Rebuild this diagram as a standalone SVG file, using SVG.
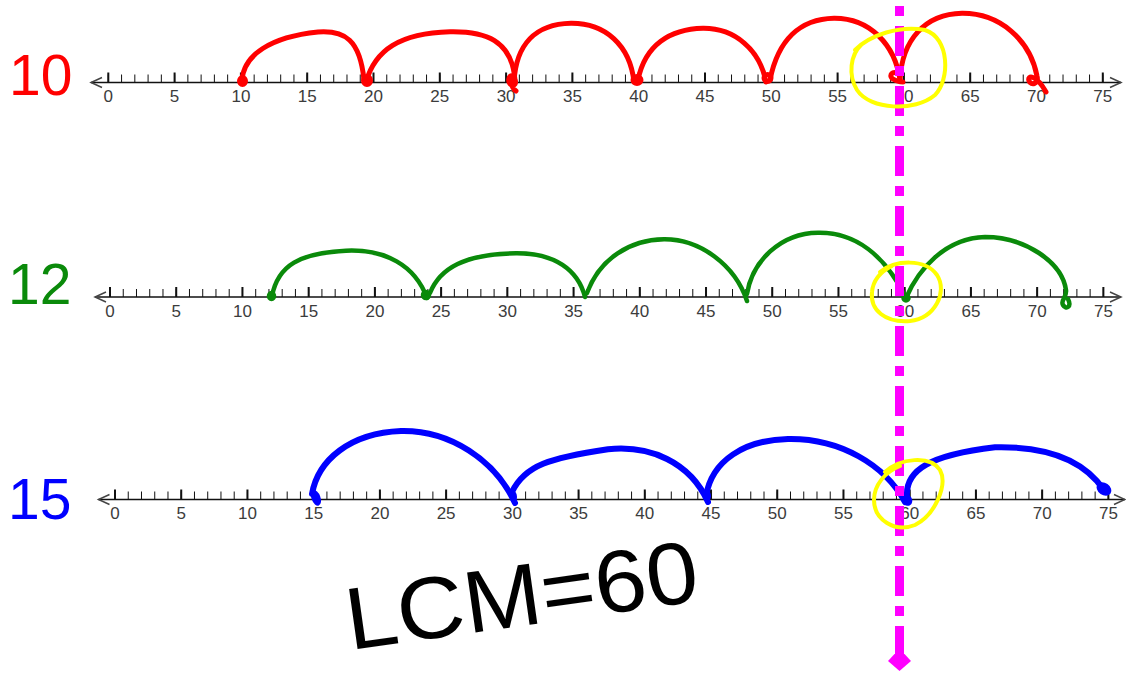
<svg xmlns="http://www.w3.org/2000/svg" width="1126" height="673" viewBox="0 0 1126 673">
<style>
.axis{stroke:#111;stroke-width:1.5;fill:none}
.arr{stroke:#444;stroke-width:1.5;fill:none}
.minor{stroke:#111;stroke-width:8;fill:none}
.major{stroke:#111;stroke-width:10;fill:none}
.lbl{font-family:"Liberation Sans",Arial,sans-serif;font-size:17px;fill:#3c3c3c;text-anchor:middle}
.big{font-family:"Liberation Sans",Arial,sans-serif;font-size:57px}
.red{stroke:#ff0000;stroke-width:5;fill:none;stroke-linecap:round;stroke-linejoin:round}
.grn{stroke:#0a8a0a;stroke-width:4.5;fill:none;stroke-linecap:round;stroke-linejoin:round}
.blu{stroke:#0000ff;stroke-width:6;fill:none;stroke-linecap:round;stroke-linejoin:round}
.yel{stroke:#ffff00;stroke-width:4;fill:none;stroke-linecap:round;stroke-linejoin:round}
</style>
<rect width="1126" height="673" fill="#ffffff"/>

<g id="line10">
<text class="big" x="9" y="95" fill="#ff0000">10</text>
<line class="axis" x1="91" y1="82.5" x2="1121" y2="82.5"/>
<line class="minor" x1="107.8" y1="78.5" x2="1103.3" y2="78.5" stroke-dasharray="1 12.26"/>
<line class="major" x1="107.3" y1="77.5" x2="1104" y2="77.5" stroke-dasharray="2 64.3"/>
<polyline class="arr" points="102,77.5 91,82.5 102,87.5"/>
<polyline class="arr" points="1110,77.5 1121,82.5 1110,87.5"/>
<text class="lbl" x="108.3" y="102">0</text><text class="lbl" x="174.6" y="102">5</text><text class="lbl" x="240.9" y="102">10</text><text class="lbl" x="307.2" y="102">15</text><text class="lbl" x="373.5" y="102">20</text><text class="lbl" x="439.8" y="102">25</text><text class="lbl" x="506.1" y="102">30</text><text class="lbl" x="572.4" y="102">35</text><text class="lbl" x="638.7" y="102">40</text><text class="lbl" x="705" y="102">45</text><text class="lbl" x="771.3" y="102">50</text><text class="lbl" x="837.6" y="102">55</text><text class="lbl" x="903.9" y="102">60</text><text class="lbl" x="970.2" y="102">65</text><text class="lbl" x="1036.5" y="102">70</text><text class="lbl" x="1102.8" y="102">75</text>
</g>

<g id="line12">
<text class="big" x="8" y="304" fill="#0a8a0a">12</text>
<line class="axis" x1="95" y1="297" x2="1121" y2="297"/>
<line class="minor" x1="109.5" y1="293" x2="1104" y2="293" stroke-dasharray="1 12.245"/>
<line class="major" x1="109" y1="292" x2="1105" y2="292" stroke-dasharray="2 64.225"/>
<polyline class="arr" points="106,292 95,297 106,302"/>
<polyline class="arr" points="1110,292 1121,297 1110,302"/>
<text class="lbl" x="110" y="316.5">0</text><text class="lbl" x="176.2" y="316.5">5</text><text class="lbl" x="242.5" y="316.5">10</text><text class="lbl" x="308.7" y="316.5">15</text><text class="lbl" x="374.9" y="316.5">20</text><text class="lbl" x="441.1" y="316.5">25</text><text class="lbl" x="507.4" y="316.5">30</text><text class="lbl" x="573.6" y="316.5">35</text><text class="lbl" x="639.8" y="316.5">40</text><text class="lbl" x="706" y="316.5">45</text><text class="lbl" x="772.3" y="316.5">50</text><text class="lbl" x="838.5" y="316.5">55</text><text class="lbl" x="904.7" y="316.5">60</text><text class="lbl" x="970.9" y="316.5">65</text><text class="lbl" x="1037.2" y="316.5">70</text><text class="lbl" x="1103.4" y="316.5">75</text>
</g>

<g id="line15">
<text class="big" x="8" y="519" fill="#0000ff">15</text>
<line class="axis" x1="98.5" y1="499.5" x2="1125" y2="499.5"/>
<line class="minor" x1="114.5" y1="495.5" x2="1109" y2="495.5" stroke-dasharray="1 12.245"/>
<line class="major" x1="114" y1="494.5" x2="1110" y2="494.5" stroke-dasharray="2 64.225"/>
<polyline class="arr" points="109.5,494.5 98.5,499.5 109.5,504.5"/>
<polyline class="arr" points="1114,494.5 1125,499.5 1114,504.5"/>
<text class="lbl" x="115" y="518.5">0</text><text class="lbl" x="181.2" y="518.5">5</text><text class="lbl" x="247.5" y="518.5">10</text><text class="lbl" x="313.7" y="518.5">15</text><text class="lbl" x="379.9" y="518.5">20</text><text class="lbl" x="446.1" y="518.5">25</text><text class="lbl" x="512.4" y="518.5">30</text><text class="lbl" x="578.6" y="518.5">35</text><text class="lbl" x="644.8" y="518.5">40</text><text class="lbl" x="711" y="518.5">45</text><text class="lbl" x="777.3" y="518.5">50</text><text class="lbl" x="843.5" y="518.5">55</text><text class="lbl" x="909.7" y="518.5">60</text><text class="lbl" x="975.9" y="518.5">65</text><text class="lbl" x="1042.2" y="518.5">70</text><text class="lbl" x="1108.4" y="518.5">75</text>
</g>

<g id="jumps">
<g id="jumps10">
<path class="red" d="M242,80 C244,55 270,37 318,32 C345,30 360,40 364,80"/>
<path class="red" d="M366,82 C375,50 400,33 450,31.7 C485,31 512,40 515,80"/>
<path class="red" d="M514,82 C516,45 535,24 571,23.3 C605,23 630,45 634,82"/>
<path class="red" d="M638,80 C645,45 670,29 703,28.3 C735,28 760,50 766,82"/>
<path class="red" d="M770,80 C778,40 800,19 834,18.3 C870,18 895,45 900,80"/>
<path class="red" d="M900,80 C902,40 925,14 962,13.3 C1000,13 1030,40 1037,76 C1039,84 1031,86 1029,81 C1027,75 1036,74 1046,92"/>
<ellipse class="red" cx="242.5" cy="81" rx="3" ry="3.5"/>
<ellipse class="red" cx="367" cy="80.5" rx="3.5" ry="4"/>
<path class="red" d="M513,76 C508,74 507,84 512,85 C516,86 517,80 513,79 C510,79 511,88 516,91"/>
<ellipse class="red" cx="637" cy="80" rx="4" ry="3.5"/>
<ellipse class="red" cx="767.5" cy="78" rx="3.5" ry="3.5"/>
<path class="red" d="M896,73 C891,71 889,77 893,79 C896,81 900,82 903,82"/>
</g>
<g id="jumps12">
<path class="grn" d="M272,296 C278,265 300,253 346,250.7 C385,249 415,265 427,298"/>
<path class="grn" d="M430,293 C440,268 465,254 516,253.3 C555,253 578,270 585,297"/>
<path class="grn" d="M587,293 C600,258 630,240 664,239.3 C700,239 735,265 747,301"/>
<path class="grn" d="M747,294 C752,262 780,233 818,232.7 C855,232 885,255 906,298"/>
<path class="grn" d="M906,298 C918,270 945,238 985,237 C1025,237 1062,262 1066,290 C1067,298 1060,300 1063,305 C1066,310 1072,307 1068,299"/>
<ellipse class="grn" cx="271.5" cy="296" rx="2.5" ry="3"/>
<ellipse class="grn" cx="426" cy="295" rx="3" ry="3"/>
<ellipse class="grn" cx="906" cy="298" rx="2.5" ry="2.5"/>
</g>
<g id="jumps15">
<path class="blu" d="M312,494 C318,460 350,433 401,431 C450,430 495,460 515,503"/>
<path class="blu" d="M512,492 C525,465 550,458 608,449.3 C650,445 690,462 708,502"/>
<path class="blu" d="M706,496 C712,460 745,440 788,439 C840,438 885,465 905,502"/>
<path class="blu" d="M907,497 C905,470 930,455 995,447.3 C1050,446 1085,462 1104,490"/>
<ellipse cx="316" cy="498" rx="4.5" ry="8" fill="#0000ff" transform="rotate(-20 316 498)"/>
<ellipse cx="513.5" cy="497" rx="3.5" ry="6" fill="#0000ff"/>
<ellipse cx="708" cy="496" rx="3" ry="5" fill="#0000ff"/>
<ellipse cx="907" cy="500" rx="5" ry="6" fill="#0000ff" transform="rotate(-30 907 500)"/>
<ellipse cx="1104" cy="489" rx="8" ry="6" fill="#0000ff" transform="rotate(35 1104 489)"/>
</g>
</g>

<g id="lcm-line">
<line x1="899.5" y1="6" x2="899.5" y2="655" stroke="#ff00ff" stroke-width="9" stroke-dasharray="10 10 30 10"/>
<polygon points="894.5,654 904.5,654 911,661 899.5,671 888,661" fill="#ff00ff"/>
</g>

<g id="circles">
<path class="yel" d="M855,50 C870,35 900,25 925,30 C950,38 950,80 935,95 C915,112 870,110 857,90 C848,75 850,55 862,44"/>
<path class="yel" d="M880,272 C895,260 925,258 937,275 C948,292 935,318 910,321 C885,323 870,310 872,292 C873,280 880,272 892,266"/>
<path class="yel" d="M885,472 C900,458 930,455 940,470 C948,485 935,515 915,525 C895,533 874,520 874,500 C874,485 885,472 900,466"/>
</g>

<g id="lcm">
<text x="350" y="650" font-family="'Liberation Sans',Arial,sans-serif" font-size="88" fill="#000000" textLength="355" lengthAdjust="spacingAndGlyphs" transform="rotate(-8 350 650)">LCM=60</text>
</g>
</svg>
